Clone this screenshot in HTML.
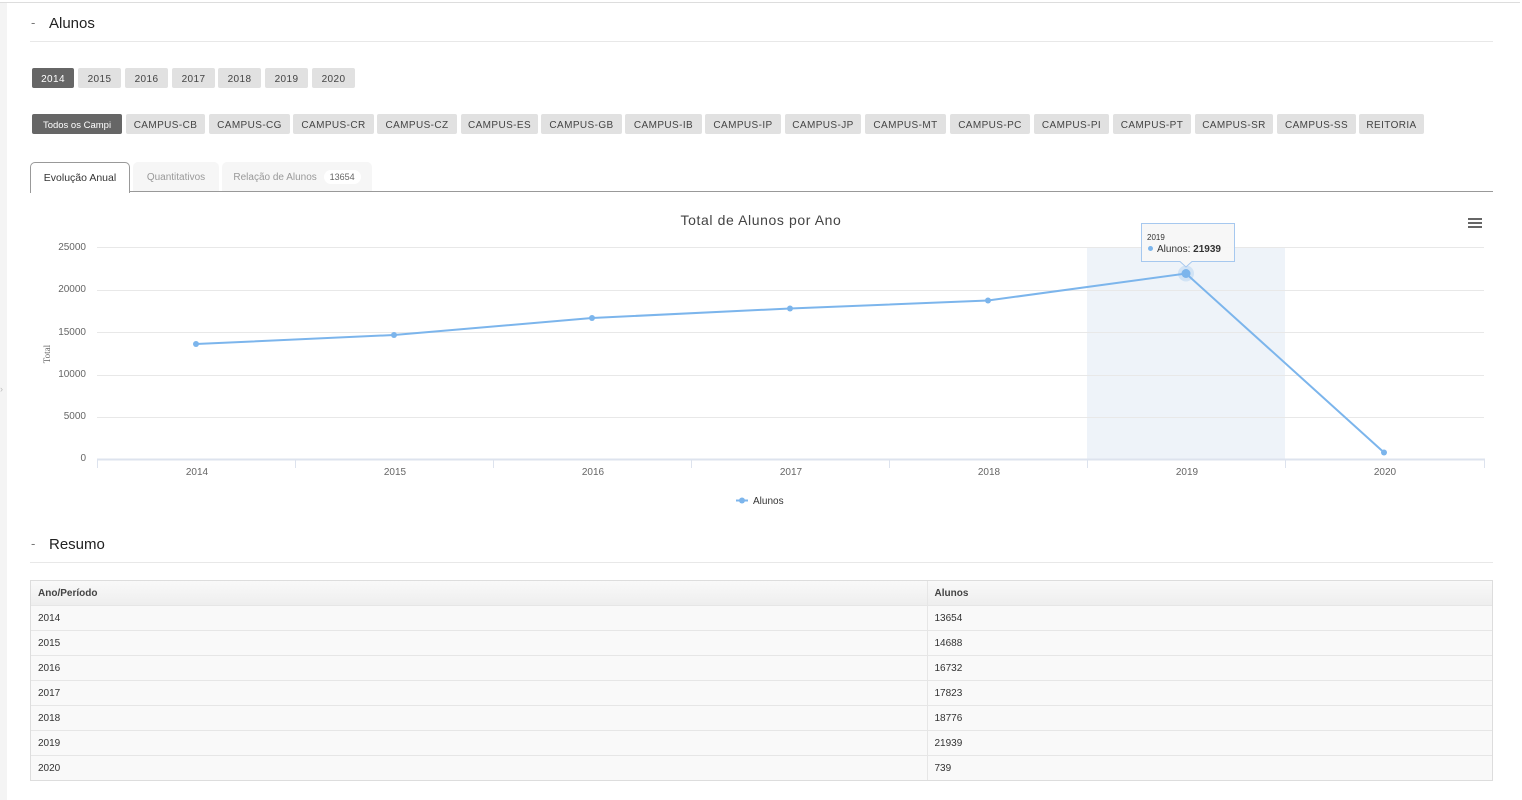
<!DOCTYPE html>
<html><head><meta charset="utf-8">
<style>
*{margin:0;padding:0;box-sizing:border-box}
body{width:1522px;height:800px;background:#fff;font-family:"Liberation Sans",sans-serif;color:#333;position:relative;overflow:hidden}
.abs{position:absolute}
.leftband{left:0;top:3px;width:7px;height:797px;background:#f4f4f4}
.topline{left:0;top:2px;width:1520px;height:1px;background:#ddd}
.h{font-size:15px;color:#222}
.hd{font-size:13px;color:#777}
.hl{height:1px;background:#e8e8e8}
.btn{position:absolute;height:20px;line-height:20px;padding-top:2px;text-align:center;font-size:10px;color:#444;background:#e1e1e1;border-radius:2px;letter-spacing:0.4px}
.btn.act{background:#666;color:#fff}
.tab{position:absolute;top:162px;height:30px;line-height:30px;font-size:10px;text-align:center;border-radius:5px 5px 0 0}
table{border-collapse:collapse;width:1461px;font-size:10px;color:#333}
td{height:25px;padding-left:7px;padding-top:2px;border-top:1px solid #e6e6e6;background:#f9f9f9}
th{height:24px;text-align:left;padding-left:7px;padding-top:2px;font-weight:bold;background:linear-gradient(#f9f9f9,#eee);color:#444}
</style></head><body>
<div class="abs leftband"></div>
<div class="abs topline"></div>
<div class="abs" style="left:0;top:384px;font-size:9px;color:#bbb">›</div>

<div class="abs hd" style="left:31px;top:15px">-</div>
<div class="abs h" style="left:49px;top:15px">Alunos</div>
<div class="abs hl" style="left:30px;top:41px;width:1463px"></div>

<div class="btn act" style="left:32px;top:68px;width:42px">2014</div>
<div class="btn" style="left:78px;top:68px;width:43px">2015</div>
<div class="btn" style="left:125px;top:68px;width:43px">2016</div>
<div class="btn" style="left:172px;top:68px;width:43px">2017</div>
<div class="btn" style="left:218px;top:68px;width:43px">2018</div>
<div class="btn" style="left:265px;top:68px;width:43px">2019</div>
<div class="btn" style="left:312px;top:68px;width:43px">2020</div>

<div class="btn act" style="left:32px;top:114px;width:90px;letter-spacing:0;font-size:9.5px">Todos os Campi</div>
<div class="btn" style="left:126px;top:114px;width:79px">CAMPUS-CB</div>
<div class="btn" style="left:209px;top:114px;width:81px">CAMPUS-CG</div>
<div class="btn" style="left:293px;top:114px;width:81px">CAMPUS-CR</div>
<div class="btn" style="left:377px;top:114px;width:80px">CAMPUS-CZ</div>
<div class="btn" style="left:461px;top:114px;width:77px">CAMPUS-ES</div>
<div class="btn" style="left:541px;top:114px;width:81px">CAMPUS-GB</div>
<div class="btn" style="left:625px;top:114px;width:77px">CAMPUS-IB</div>
<div class="btn" style="left:705px;top:114px;width:76px">CAMPUS-IP</div>
<div class="btn" style="left:785px;top:114px;width:76px">CAMPUS-JP</div>
<div class="btn" style="left:865px;top:114px;width:81px">CAMPUS-MT</div>
<div class="btn" style="left:950px;top:114px;width:80px">CAMPUS-PC</div>
<div class="btn" style="left:1034px;top:114px;width:75px">CAMPUS-PI</div>
<div class="btn" style="left:1113px;top:114px;width:78px">CAMPUS-PT</div>
<div class="btn" style="left:1195px;top:114px;width:78px">CAMPUS-SR</div>
<div class="btn" style="left:1277px;top:114px;width:79px">CAMPUS-SS</div>
<div class="btn" style="left:1359px;top:114px;width:65px">REITORIA</div>

<div class="abs" style="left:30px;top:191px;width:1463px;height:1px;background:#999"></div>
<div class="tab" style="left:30px;width:100px;height:31px;background:#fff;border:1px solid #999;border-bottom:none;color:#333;font-size:10.5px">Evolução Anual</div>
<div class="tab" style="left:133px;width:86px;background:#f6f6f6;color:#999;height:29px;line-height:31px">Quantitativos</div>
<div class="tab" style="left:222px;width:150px;background:#f6f6f6;color:#999;height:29px;line-height:31px">Relação de Alunos <span style="display:inline-block;background:#fff;border-radius:8px;padding:0 6px;line-height:14px;color:#666;font-size:9px;margin-left:4px">13654</span></div>

<svg class="abs" style="left:0;top:0" width="1522" height="540" viewBox="0 0 1522 540">
  <rect x="1087" y="247" width="198" height="212" fill="#eef3f9"/>
  <g stroke="#e8e8e8" stroke-width="1">
    <line x1="97" y1="247.5" x2="1484" y2="247.5"/>
    <line x1="97" y1="290.5" x2="1484" y2="290.5"/>
    <line x1="97" y1="332.5" x2="1484" y2="332.5"/>
    <line x1="97" y1="375.5" x2="1484" y2="375.5"/>
    <line x1="97" y1="417.5" x2="1484" y2="417.5"/>
  </g>
  <line x1="97" y1="459.5" x2="1485" y2="459.5" stroke="#dde3ee" stroke-width="2"/>
  <g stroke="#dde3ee" stroke-width="1">
    <line x1="97.5" y1="459" x2="97.5" y2="468"/>
    <line x1="295.5" y1="459" x2="295.5" y2="468"/>
    <line x1="493.5" y1="459" x2="493.5" y2="468"/>
    <line x1="691.5" y1="459" x2="691.5" y2="468"/>
    <line x1="889.5" y1="459" x2="889.5" y2="468"/>
    <line x1="1087.5" y1="459" x2="1087.5" y2="468"/>
    <line x1="1285.5" y1="459" x2="1285.5" y2="468"/>
    <line x1="1484.5" y1="459" x2="1484.5" y2="468"/>
  </g>
  <g font-family="Liberation Sans,sans-serif" font-size="10" fill="#666" text-anchor="end">
    <text x="86" y="250">25000</text>
    <text x="86" y="292">20000</text>
    <text x="86" y="335">15000</text>
    <text x="86" y="377">10000</text>
    <text x="86" y="419">5000</text>
    <text x="86" y="461">0</text>
  </g>
  <text x="50" y="354" transform="rotate(-90 50 354)" font-family="Liberation Serif,serif" font-size="9" fill="#666" text-anchor="middle">Total</text>
  <g font-family="Liberation Sans,sans-serif" font-size="10" fill="#666" text-anchor="middle">
    <text x="197" y="475">2014</text>
    <text x="395" y="475">2015</text>
    <text x="593" y="475">2016</text>
    <text x="791" y="475">2017</text>
    <text x="989" y="475">2018</text>
    <text x="1187" y="475">2019</text>
    <text x="1385" y="475">2020</text>
  </g>
  <text x="761" y="225" font-family="Liberation Sans,sans-serif" font-size="14" fill="#444" text-anchor="middle" letter-spacing="0.6">Total de Alunos por Ano</text>
  <g fill="#666">
    <rect x="1468" y="218" width="14" height="2"/>
    <rect x="1468" y="222" width="14" height="2"/>
    <rect x="1468" y="226" width="14" height="2"/>
  </g>
  <polyline points="196,344 394,335 592,318 790,308.5 988,300.5 1186,273.5 1384,452.5" fill="none" stroke="#7cb5ec" stroke-width="2"/>
  <g fill="#7cb5ec">
    <circle cx="196" cy="344" r="3"/>
    <circle cx="394" cy="335" r="3"/>
    <circle cx="592" cy="318" r="3"/>
    <circle cx="790" cy="308.5" r="3"/>
    <circle cx="988" cy="300.5" r="3"/>
    <circle cx="1384" cy="452.5" r="3"/>
  </g>
  <circle cx="1186" cy="273.5" r="8" fill="#7cb5ec" opacity="0.25"/>
  <circle cx="1186" cy="273.5" r="4.5" fill="#7cb5ec"/>
  <g>
    <path d="M1141.5,223.5 H1234.5 V261.5 H1192 L1186,267 L1180,261.5 H1141.5 Z" fill="#f7f7f7" fill-opacity="0.95" stroke="#a6c8ef" stroke-width="1"/>
    <text x="1147" y="240" font-family="Liberation Sans,sans-serif" font-size="8" fill="#333">2019</text>
    <circle cx="1150.5" cy="248.5" r="2.5" fill="#7cb5ec"/>
    <text x="1157" y="252" font-family="Liberation Sans,sans-serif" font-size="10" fill="#333">Alunos: <tspan font-weight="bold">21939</tspan></text>
  </g>
  <line x1="736" y1="500.5" x2="748" y2="500.5" stroke="#7cb5ec" stroke-width="2"/>
  <circle cx="742" cy="500.5" r="3" fill="#7cb5ec"/>
  <text x="753" y="504" font-family="Liberation Sans,sans-serif" font-size="10" fill="#333">Alunos</text>
</svg>

<div class="abs hd" style="left:31px;top:536px">-</div>
<div class="abs h" style="left:49px;top:536px">Resumo</div>
<div class="abs hl" style="left:30px;top:562px;width:1463px"></div>

<div class="abs" style="left:30px;top:580px;border:1px solid #ddd;width:1463px">
<table>
<tr><th style="width:896px;border-right:1px solid #e6e6e6">Ano/Período</th><th>Alunos</th></tr>
<tr><td style="border-right:1px solid #e6e6e6">2014</td><td>13654</td></tr>
<tr><td style="border-right:1px solid #e6e6e6">2015</td><td>14688</td></tr>
<tr><td style="border-right:1px solid #e6e6e6">2016</td><td>16732</td></tr>
<tr><td style="border-right:1px solid #e6e6e6">2017</td><td>17823</td></tr>
<tr><td style="border-right:1px solid #e6e6e6">2018</td><td>18776</td></tr>
<tr><td style="border-right:1px solid #e6e6e6">2019</td><td>21939</td></tr>
<tr><td style="border-right:1px solid #e6e6e6">2020</td><td>739</td></tr>
</table>
</div>
</body></html>
